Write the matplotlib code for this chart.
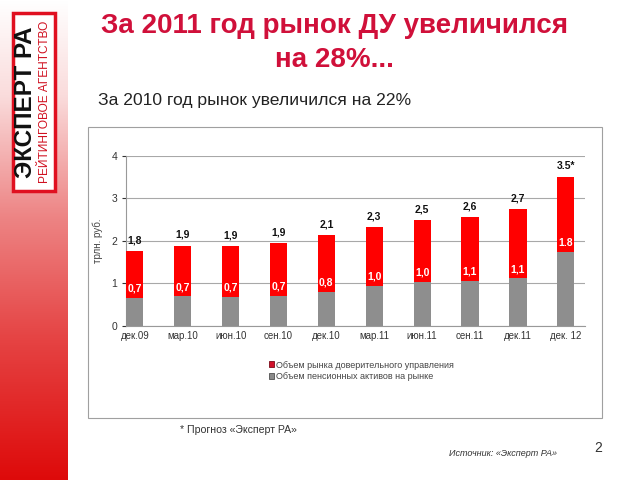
import numpy as np
import matplotlib
matplotlib.use("Agg")
import matplotlib.pyplot as plt
from matplotlib.patches import Rectangle
from matplotlib.colors import LinearSegmentedColormap

plt.rcParams['font.family'] = ['Liberation Sans', 'DejaVu Sans']

# данные
periods = ["дек.09", "мар.10", "июн.10", "сен.10", "дек.10",
           "мар.11", "июн.11", "сен.11", "дек.11", "дек. 12"]
total = [1.76, 1.89, 1.87, 1.94, 2.14, 2.32, 2.49, 2.56, 2.74, 3.51]
pension = [0.66, 0.69, 0.68, 0.71, 0.80, 0.94, 1.04, 1.05, 1.12, 1.74]
total_labels = ["1,8", "1,9", "1,9", "1,9", "2,1", "2,3", "2,5", "2,6", "2,7", "3.5*"]
pension_labels = ["0,7", "0,7", "0,7", "0,7", "0,8", "1,0", "1,0", "1,1", "1,1", "1.8"]
series_names = ["Объем рынка доверительного управления",
                "Объем пенсионных активов на рынке"]

red = "#FF0000"
gray = "#8E8E8E"
title_color = "#D0103A"

fig = plt.figure(figsize=(6.4, 4.8), dpi=100)

# красная полоса слева
strip = fig.add_axes([0, 0, 68 / 640, 1])
cmap = LinearSegmentedColormap.from_list(
    "strip", [(0, (1, 1, 1)), (0.2, (0.98, 0.86, 0.86)), (0.45, (0.93, 0.52, 0.52)),
              (0.7, (0.9, 0.27, 0.27)), (1, (0.87, 0.04, 0.04))])
grad = np.linspace(0, 1, 256).reshape(-1, 1)
strip.imshow(grad, aspect="auto", cmap=cmap, extent=[0, 1, 1, 0])
strip.axis("off")

# логотип
fig.patches.append(Rectangle((13 / 640, 1 - 191 / 480), 42 / 640, 178 / 480,
                             transform=fig.transFigure, facecolor="white",
                             edgecolor="#E01020", linewidth=2.5))
fig.text(26 / 640, 1 - 102 / 480, "ЭКСПЕРТ РА", rotation=90, ha="center", va="center",
         fontsize=17.5, fontweight="bold", color="#111111")
fig.text(45.5 / 640, 1 - 102 / 480, "РЕЙТИНГОВОЕ АГЕНТСТВО", rotation=90, ha="center",
         va="center", fontsize=8.6, color="#D01020")

# заголовки
fig.text(0.523, 1 - 33 / 480, "За 2011 год рынок ДУ увеличился", ha="center", va="baseline",
         fontsize=20, fontweight="bold", color=title_color)
fig.text(0.523, 1 - 67 / 480, "на 28%...", ha="center", va="baseline",
         fontsize=20, fontweight="bold", color=title_color)
fig.text(98 / 640, 1 - 105 / 480, "За 2010 год рынок увеличился на 22%", ha="left",
         va="baseline", fontsize=12.6, color="#222222")

# рамка диаграммы
fig.patches.append(Rectangle((88 / 640, 1 - 418 / 480), 514 / 640, 291 / 480,
                             transform=fig.transFigure, facecolor="white",
                             edgecolor="#A0A0A0", linewidth=0.8, zorder=0))

ax = fig.add_axes([125.7 / 640, 1 - 325.7 / 480, 459.3 / 640, 169.7 / 480])
ax.set_zorder(3)
x = np.arange(len(periods))
du = np.array(total) - np.array(pension)
ax.bar(x, du, 0.36, bottom=pension, color=red, zorder=3)
ax.bar(x, pension, 0.36, color=gray, zorder=3)

for i in range(len(periods)):
    ax.annotate(total_labels[i], (x[i], total[i]), xytext=(0, 4), textcoords="offset points",
                ha="center", va="bottom", fontsize=7.5, fontweight="bold", color="#111111")
    ax.annotate(pension_labels[i], (x[i], pension[i]), xytext=(0, 3), textcoords="offset points",
                ha="center", va="bottom", fontsize=7.5, fontweight="bold", color="white",
                zorder=4)

ax.set_xlim(-0.19, 9.4)
ax.set_ylim(0, 4)
ax.set_yticks([0, 1, 2, 3, 4])
ax.yaxis.grid(True, color="#A8A8A8", linewidth=0.8, zorder=0)
ax.set_xticks(x)
ax.set_xticklabels(periods)
ax.tick_params(axis="x", length=0, labelsize=7, colors="#333333", pad=4)
ax.tick_params(axis="y", length=3, labelsize=7.5, colors="#333333", pad=3)
for s in ["top", "right"]:
    ax.spines[s].set_visible(False)
ax.spines["left"].set_color("#999999")
ax.spines["bottom"].set_color("#999999")
ax.set_ylabel("трлн. руб.", fontsize=7, color="#444444", labelpad=6)
ax.set_facecolor("none")

handles = [Rectangle((0, 0), 1, 1, facecolor="#D0102A", edgecolor="#7A0A18", linewidth=0.6),
           Rectangle((0, 0), 1, 1, facecolor="#8A8A8A", edgecolor="#505050", linewidth=0.6)]
leg = fig.legend(handles, series_names, loc="upper left",
                 bbox_to_anchor=(264 / 640, 1 - 356 / 480),
                 frameon=False, fontsize=6.5, handlelength=0.6, handleheight=0.6,
                 handletextpad=0.2, labelspacing=0.3, borderpad=0, labelcolor="#444444")
leg.set_zorder(3)

# подписи внизу
fig.text(180 / 640, 1 - 430 / 480, "* Прогноз «Эксперт РА»", ha="left", va="center",
         fontsize=7.6, color="#333333")
fig.text(557 / 640, 1 - 453 / 480, "Источник: «Эксперт РА»", ha="right", va="center",
         fontsize=6.5, style="italic", color="#333333")
fig.text(598 / 640, 1 - 448 / 480, "2", ha="center", va="center", fontsize=10,
         color="#333333")

fig.savefig("out.png", dpi=100)
